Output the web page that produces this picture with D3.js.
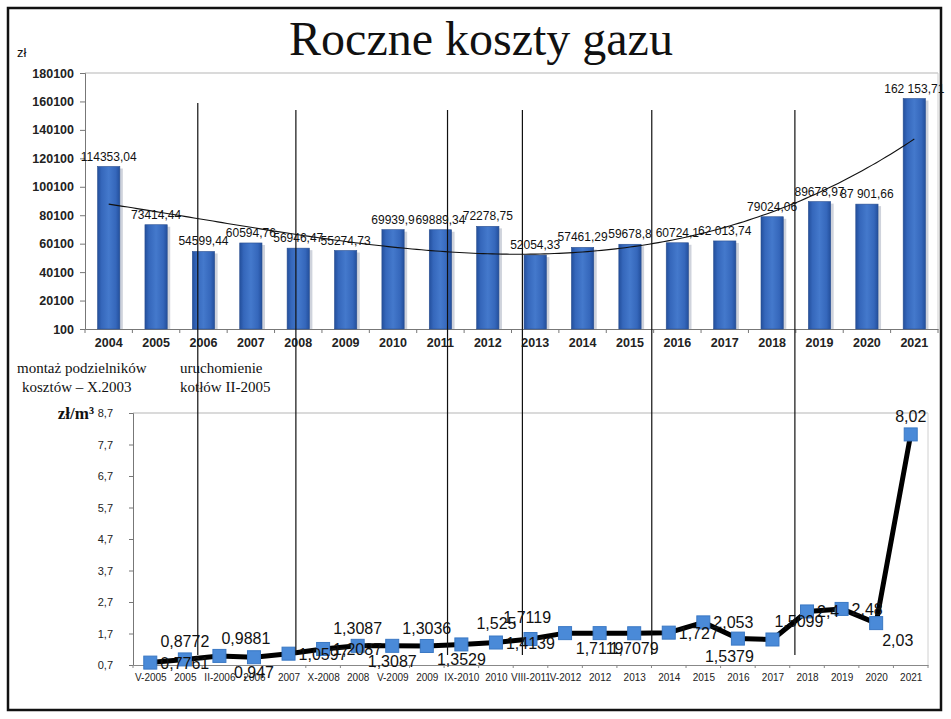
<!DOCTYPE html>
<html lang="pl">
<head>
<meta charset="utf-8">
<title>Roczne koszty gazu</title>
<script src="https://cdn.jsdelivr.net/npm/d3@7"></script>
<style>
  body { margin: 0; background: #fff; }
  svg { display: block; }
</style>
</head>
<body>
<div id="chart"></div>
<script>
// roczne koszty gazu (zł)
var years = ["2004","2005","2006","2007","2008","2009","2010","2011","2012",
             "2013","2014","2015","2016","2017","2018","2019","2020","2021"];
var costs = [114353.04, 73414.44, 54599.44, 60594.76, 56946.47, 55274.73, 69939.9, 69889.34, 72278.75,
             52054.33, 57461.29, 59678.8, 60724.1, 62013.74, 79024.06, 89678.97, 87901.66, 162153.71];
var costLabels = ["114353,04","73414,44","54599,44","60594,76","56946,47","55274,73","69939,9","69889,34","72278,75",
                  "52054,33","57461,29","59678,8","60724,1","62 013,74","79024,06","89678,97","87 901,66","162 153,71"];
var costTicks = [100, 20100, 40100, 60100, 80100, 100100, 120100, 140100, 160100, 180100];

// cena gazu (zł/m3)
var periods = ["V-2005","2005","II-2006","2006","2007","X-2008","2008","V-2009","2009","IX-2010","2010","VIII-2011",
               "V-2012","2012","2013","2014","2015","2016","2017","2018","2019","2020","2021"];
var prices = [0.7761, 0.8772, 0.9881, 0.947, 1.0597, 1.2087, 1.3087, 1.3087, 1.3036, 1.3529, 1.4139, 1.525,
              1.7119, 1.7119, 1.7079, 1.727, 2.053, 1.5379, 1.5099, 2.4, 2.48, 2.03, 8.02];
var priceLabelPos = ["r","t","tr","b","r","r","t","b","t","b","r","tl",
                     "tl","b","b","r","r","bl","tr","r","r","br","t"];
var priceTicks = [0.7, 1.7, 2.7, 3.7, 4.7, 5.7, 6.7, 7.7, 8.7];

// zdarzenia (pionowe linie), w latach osi górnej
var eventYears = [2005.88, 2007.95, 2011.15, 2012.73, 2015.46, 2018.48];

var W = 951, H = 719;
var svg = d3.select("#chart").append("svg").attr("width", W).attr("height", H);

var defs = svg.append("defs");
var grad = defs.append("linearGradient").attr("id", "barGrad")
  .attr("x1", "0%").attr("x2", "100%").attr("y1", "0%").attr("y2", "0%");
grad.append("stop").attr("offset", "0%").attr("stop-color", "#234f9c");
grad.append("stop").attr("offset", "18%").attr("stop-color", "#3567bb");
grad.append("stop").attr("offset", "50%").attr("stop-color", "#4479cc");
grad.append("stop").attr("offset", "82%").attr("stop-color", "#3567bb");
grad.append("stop").attr("offset", "100%").attr("stop-color", "#234f9c");

// ramka
svg.append("rect").attr("x", 8).attr("y", 8).attr("width", 933).attr("height", 702)
  .attr("fill", "none").attr("stroke", "#111").attr("stroke-width", 2.5);

svg.append("text").attr("x", 481).attr("y", 55).attr("text-anchor", "middle")
  .attr("font-family", "'Liberation Serif', 'Times New Roman', serif").attr("font-size", 48)
  .attr("fill", "#111").text("Roczne koszty gazu");

svg.append("text").attr("x", 17).attr("y", 57)
  .attr("font-family", "'Liberation Sans', Arial, sans-serif").attr("font-size", 13)
  .attr("fill", "#111").text("zł");

// ---------- wykres górny ----------
var t = {left: 85, right: 938, top: 73, bottom: 329};
var x1 = d3.scaleBand().domain(years).range([t.left, t.right]).paddingInner(0.53).paddingOuter(0.265);
var y1 = d3.scaleLinear().domain([100, 180100]).range([t.bottom, t.top]);

var topG = svg.append("g");
topG.append("line").attr("x1", t.left).attr("x2", t.right).attr("y1", t.top).attr("y2", t.top)
  .attr("stroke", "#b5b5b5");
topG.append("line").attr("x1", t.right).attr("x2", t.right).attr("y1", t.top).attr("y2", t.bottom)
  .attr("stroke", "#d0d0d0");

var yAx1 = topG.append("g").attr("transform", "translate(" + t.left + ",0)")
  .call(d3.axisLeft(y1).tickValues(costTicks).tickSize(5).tickPadding(6).tickFormat(d3.format("d")));
yAx1.select(".domain").attr("stroke", "#777");
yAx1.selectAll(".tick line").attr("stroke", "#777");
yAx1.selectAll("text").attr("font-family", "'Liberation Sans', Arial, sans-serif")
  .attr("font-size", 12.5).attr("font-weight", "bold").attr("fill", "#222");

var xAx1 = topG.append("g").attr("transform", "translate(0," + t.bottom + ")")
  .call(d3.axisBottom(x1).tickSize(0).tickPadding(9));
xAx1.select(".domain").attr("stroke", "#777");
xAx1.selectAll("text").attr("font-family", "'Liberation Sans', Arial, sans-serif")
  .attr("font-size", 12.5).attr("font-weight", "bold").attr("fill", "#222");
// znaczniki między kategoriami
var step1 = x1.step();
topG.append("g").selectAll("line").data(d3.range(years.length + 1)).enter().append("line")
  .attr("x1", function(i){ return t.left + i * step1; })
  .attr("x2", function(i){ return t.left + i * step1; })
  .attr("y1", t.bottom).attr("y2", t.bottom + 4).attr("stroke", "#777");

var bars = topG.append("g").selectAll("g").data(costs).enter().append("g");
bars.append("rect")
  .attr("x", function(d, i){ return x1(years[i]) + 3; })
  .attr("y", function(d){ return y1(d) + 2; })
  .attr("width", x1.bandwidth())
  .attr("height", function(d){ return t.bottom - y1(d) - 2; })
  .attr("fill", "#cfd3dc");
bars.append("rect")
  .attr("x", function(d, i){ return x1(years[i]); })
  .attr("y", function(d){ return y1(d); })
  .attr("width", x1.bandwidth())
  .attr("height", function(d){ return t.bottom - y1(d); })
  .attr("fill", "url(#barGrad)").attr("stroke", "#2a4f8f").attr("stroke-width", 0.6);
bars.append("text")
  .attr("x", function(d, i){ return x1(years[i]) + x1.bandwidth() / 2; })
  .attr("y", function(d){ return y1(d) - 6; })
  .attr("text-anchor", "middle")
  .attr("font-family", "'Liberation Sans', Arial, sans-serif").attr("font-size", 12)
  .attr("fill", "#111")
  .text(function(d, i){ return costLabels[i]; });

// linia trendu (wielomian, metoda najmniejszych kwadratów)
function polyfit(xs, ys, order) {
  var n = order + 1, A = [], b = [];
  for (var r = 0; r < n; r++) {
    A.push([]);
    for (var c = 0; c < n; c++) A[r].push(d3.sum(xs, function(x){ return Math.pow(x, r + c); }));
    b.push(d3.sum(xs, function(x, k){ return ys[k] * Math.pow(x, r); }));
  }
  for (var p = 0; p < n; p++) {
    for (var q = p + 1; q < n; q++) {
      var f = A[q][p] / A[p][p];
      for (var c2 = p; c2 < n; c2++) A[q][c2] -= f * A[p][c2];
      b[q] -= f * b[p];
    }
  }
  var coef = new Array(n);
  for (var i = n - 1; i >= 0; i--) {
    var s = b[i];
    for (var j = i + 1; j < n; j++) s -= A[i][j] * coef[j];
    coef[i] = s / A[i][i];
  }
  return function(x){ return d3.sum(coef, function(cf, k){ return cf * Math.pow(x, k); }); };
}
var idx = d3.range(years.length);
var trend = polyfit(idx, costs, 3);
var trendPts = d3.range(0, years.length - 1 + 0.001, 0.1);
var x0 = x1(years[0]) + x1.bandwidth() / 2;
topG.append("path")
  .datum(trendPts)
  .attr("fill", "none").attr("stroke", "#111").attr("stroke-width", 1.1)
  .attr("d", d3.line()
    .x(function(u){ return x0 + u * step1; })
    .y(function(u){ return y1(trend(u)); }));

// ---------- wykres dolny ----------
var bb = {left: 133, right: 928, top: 413, bottom: 665};
var x2 = d3.scalePoint().domain(periods).range([bb.left, bb.right]).padding(0.5);
var y2 = d3.scaleLinear().domain([0.7, 8.7]).range([bb.bottom, bb.top]);
var comma = function(v){ return String(v).replace(".", ","); };

var botG = svg.append("g");
botG.append("line").attr("x1", bb.left).attr("x2", bb.right).attr("y1", bb.top).attr("y2", bb.top)
  .attr("stroke", "#b5b5b5");
botG.append("line").attr("x1", bb.right).attr("x2", bb.right).attr("y1", bb.top).attr("y2", bb.bottom)
  .attr("stroke", "#d0d0d0");

var yAx2 = botG.append("g").attr("transform", "translate(" + bb.left + ",0)")
  .call(d3.axisLeft(y2).tickValues(priceTicks).tickSize(4).tickPadding(16).tickFormat(comma));
yAx2.select(".domain").attr("stroke", "#777");
yAx2.selectAll(".tick line").attr("stroke", "#777");
yAx2.selectAll("text").attr("font-family", "'Liberation Sans', Arial, sans-serif")
  .attr("font-size", 11).attr("fill", "#222");

var xAx2 = botG.append("g").attr("transform", "translate(0," + bb.bottom + ")")
  .call(d3.axisBottom(x2).tickSize(0).tickPadding(9));
xAx2.select(".domain").attr("stroke", "#888");
xAx2.selectAll("text").attr("font-family", "'Liberation Sans', Arial, sans-serif")
  .attr("font-size", 10).attr("fill", "#222");
var step2 = x2.step();
botG.append("g").selectAll("line").data(d3.range(periods.length + 1)).enter().append("line")
  .attr("x1", function(i){ return bb.left + i * step2; })
  .attr("x2", function(i){ return bb.left + i * step2; })
  .attr("y1", bb.bottom).attr("y2", bb.bottom + 3).attr("stroke", "#888");

svg.append("text").attr("x", 94).attr("y", 419).attr("text-anchor", "end")
  .attr("font-family", "'Liberation Serif', 'Times New Roman', serif").attr("font-size", 17)
  .attr("font-weight", "bold").attr("fill", "#111").text("zł/m³");

// opisy
var notes = svg.append("g").attr("font-family", "'Liberation Serif', 'Times New Roman', serif")
  .attr("font-size", 15).attr("fill", "#111");
notes.append("text").attr("x", 17).attr("y", 373).text("montaż podzielników");
notes.append("text").attr("x", 22).attr("y", 392).text("kosztów – X.2003");
notes.append("text").attr("x", 180).attr("y", 373).text("uruchomienie");
notes.append("text").attr("x", 180).attr("y", 392).text("kotłów II-2005");

// pionowe linie zdarzeń
var xYear = d3.scaleLinear().domain([2004, 2021])
  .range([x1("2004") + x1.bandwidth() / 2, x1("2021") + x1.bandwidth() / 2]);
svg.append("g").selectAll("line").data(eventYears).enter().append("line")
  .attr("x1", function(d){ return xYear(d); }).attr("x2", function(d){ return xYear(d); })
  .attr("y1", function(d, i){ return i === 0 ? 103 : 110; })
  .attr("y2", 655)
  .attr("stroke", "#111").attr("stroke-width", 1.2);

// seria cen
botG.append("path").datum(prices)
  .attr("fill", "none").attr("stroke", "#000").attr("stroke-width", 5).attr("stroke-linejoin", "round")
  .attr("d", d3.line().x(function(d, i){ return x2(periods[i]); }).y(function(d){ return y2(d); }));

var ms = 13;
botG.append("g").selectAll("rect").data(prices).enter().append("rect")
  .attr("x", function(d, i){ return x2(periods[i]) - ms / 2; })
  .attr("y", function(d){ return y2(d) - ms / 2; })
  .attr("width", ms).attr("height", ms)
  .attr("fill", "#4a8ad8").attr("stroke", "#3a78c4").attr("stroke-width", 1);

var place = {
  t:  {dx: 0,   dy: -12, a: "middle"},
  b:  {dx: 0,   dy: 21,  a: "middle"},
  r:  {dx: 10,  dy: 6,   a: "start"},
  l:  {dx: -10, dy: 6,   a: "end"},
  tr: {dx: 2,   dy: -12, a: "start"},
  tl: {dx: -14, dy: -10, a: "end"},
  br: {dx: 6,   dy: 23,  a: "start"},
  bl: {dx: 16,  dy: 23,  a: "end"}
};
botG.append("g").selectAll("text").data(prices).enter().append("text")
  .attr("x", function(d, i){ return x2(periods[i]) + place[priceLabelPos[i]].dx; })
  .attr("y", function(d, i){ return y2(d) + place[priceLabelPos[i]].dy; })
  .attr("text-anchor", function(d, i){ return place[priceLabelPos[i]].a; })
  .attr("font-family", "'Liberation Sans', Arial, sans-serif").attr("font-size", 16)
  .attr("fill", "#111")
  .text(comma);
</script>
</body>
</html>
